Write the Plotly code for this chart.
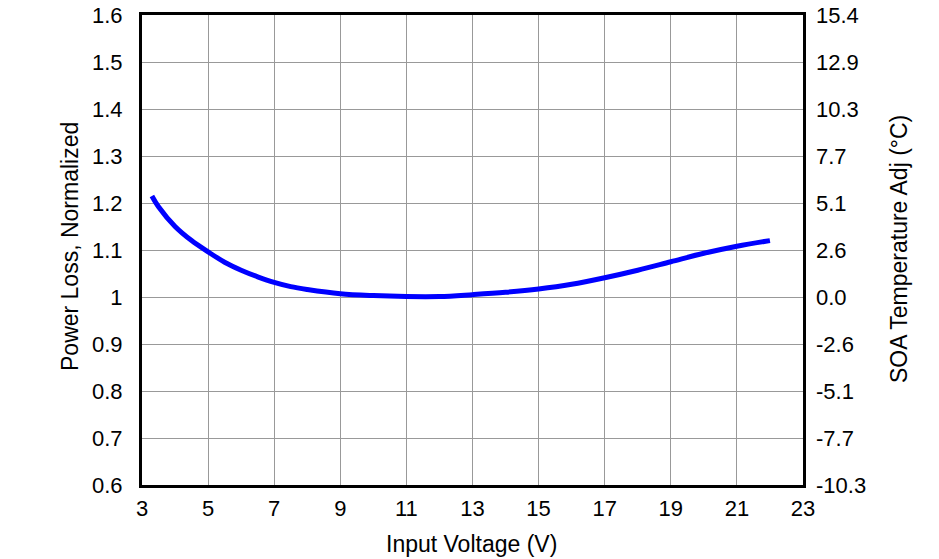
import plotly.graph_objects as go

input_voltage = [3.3, 3.5, 4, 4.5, 5, 5.5, 6, 6.5, 7, 7.5, 8, 9, 10, 11, 12, 13, 14, 15, 16, 17, 18, 19, 20, 21, 22]
power_loss = [1.215, 1.192, 1.15, 1.12, 1.096, 1.074, 1.057, 1.043, 1.031, 1.022, 1.016, 1.007, 1.003, 1.001,
              1.001, 1.005, 1.010, 1.017, 1.027, 1.041, 1.057, 1.075, 1.093, 1.108, 1.12]
x_ticks = [3, 5, 7, 9, 11, 13, 15, 17, 19, 21, 23]
left_ticks = [0.6, 0.7, 0.8, 0.9, 1.0, 1.1, 1.2, 1.3, 1.4, 1.5, 1.6]
left_tick_labels = ["0.6", "0.7", "0.8", "0.9", "1", "1.1", "1.2", "1.3", "1.4", "1.5", "1.6"]
right_tick_labels = ["-10.3", "-7.7", "-5.1", "-2.6", "0.0", "2.6", "5.1", "7.7", "10.3", "12.9", "15.4"]

tick_font = dict(family="Liberation Sans, Arial, sans-serif", size=22, color="black")
title_font = dict(family="Liberation Sans, Arial, sans-serif", size=23, color="black")

fig = go.Figure()
fig.add_trace(go.Scatter(x=input_voltage, y=power_loss, mode="lines",
                         line=dict(color="#0000FF", width=5, shape="spline", smoothing=1.0),
                         showlegend=False, hoverinfo="x+y"))
fig.add_trace(go.Scatter(x=input_voltage, y=power_loss,
                         mode="lines", line=dict(color="rgba(0,0,0,0)", width=0),
                         yaxis="y2", showlegend=False, hoverinfo="skip"))

L, R, T, B = 142, 136, 15, 74
W, H = 939, 559
fig.update_layout(
    width=W, height=H,
    margin=dict(l=L, r=R, t=T, b=B, autoexpand=False),
    paper_bgcolor="white", plot_bgcolor="white",
    font=tick_font,
    xaxis=dict(range=[3, 23], tickvals=x_ticks, showgrid=True, gridcolor="#999999", gridwidth=1,
               showline=True, linecolor="black", linewidth=3, mirror=True, ticks="",
               ticklabelstandoff=2, zeroline=False, tickfont=tick_font, automargin=False),
    yaxis=dict(range=[0.6, 1.6], tickvals=left_ticks, ticktext=left_tick_labels,
               showgrid=True, gridcolor="#999999", gridwidth=1,
               showline=True, linecolor="black", linewidth=3, mirror=True, ticks="",
               ticklabelstandoff=12, zeroline=False, tickfont=tick_font, automargin=False),
    yaxis2=dict(range=[0.6, 1.6], overlaying="y", side="right",
                tickvals=left_ticks, ticktext=right_tick_labels, showgrid=False, zeroline=False,
                showline=False, ticks="", ticklabelstandoff=12, tickfont=tick_font, automargin=False),
)

plot_h = H - T - B
plot_w = W - L - R
def px_to_paper_y(py):
    return (H - B - py) / plot_h
def px_to_paper_x(px):
    return (px - L) / plot_w

fig.add_annotation(text="Input Voltage (V)", x=px_to_paper_x(471), xref="paper", y=px_to_paper_y(544), yref="paper",
                   showarrow=False, font=title_font, xanchor="center", yanchor="middle")
fig.add_annotation(text="Power Loss, Normalized", x=px_to_paper_x(70), xref="paper", y=px_to_paper_y(247), yref="paper",
                   showarrow=False, font=title_font, textangle=-90, xanchor="center", yanchor="middle")
fig.add_annotation(text="SOA Temperature Adj (°C)", x=px_to_paper_x(899), xref="paper", y=px_to_paper_y(249), yref="paper",
                   showarrow=False, font=title_font, textangle=-90, xanchor="center", yanchor="middle")

fig.write_html("out.html")
